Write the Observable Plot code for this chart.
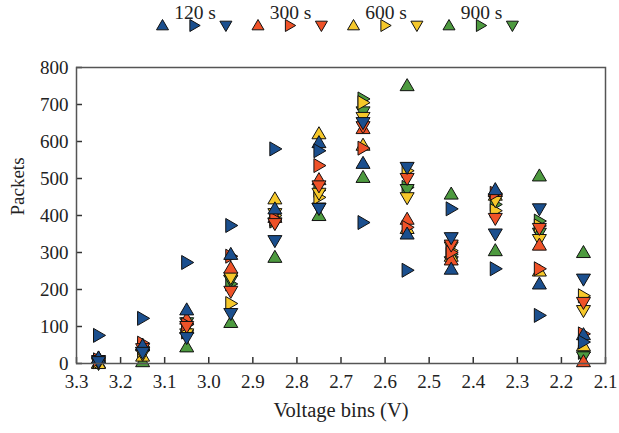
<!DOCTYPE html>
<html>
<head>
<meta charset="utf-8">
<script src="https://cdn.jsdelivr.net/npm/d3@7"></script>
<script src="https://cdn.jsdelivr.net/npm/@observablehq/plot@0.6"></script>
<style>
  html, body { margin: 0; padding: 0; background: #fff; }
  #legend svg, #chart svg { display: block; }
</style>
</head>
<body>
<div id="legend"></div>
<div id="chart"></div>
<script>
// ---- data ----
const bins = [3.25, 3.15, 3.05, 2.95, 2.85, 2.75, 2.65, 2.55, 2.45, 2.35, 2.25, 2.15];
const durations = ["120 s", "300 s", "600 s", "900 s"];
const colors = ["#1b4f8e", "#ef5228", "#f6c82a", "#4d9a3f"];
const shapeNames = ["up", "right", "down"];

const s120_up    = [15, 48, 145, 295, 418, 597, 541, 350, 255, 470, 215, 78];
const s120_right = [76, 122, 273, 373, 580, 575, 381, 252, 418, 256, 130, 58];
const s120_down  = [5, 30, 70, 135, 332, 419, 651, 530, 340, 350, 418, 228];
const s300_up    = [15, 50, 120, 258, 395, 497, 635, 390, 280, 465, 320, 5];
const s300_right = [10, 55, 105, 290, 390, 535, 582, 368, 300, 460, 256, 80];
const s300_down  = [8, 40, 100, 195, 378, 480, 640, 500, 320, 392, 365, 165];
const s600_up    = [0, 20, 95, 250, 445, 621, 590, 365, 290, 455, 250, 48];
const s600_right = [5, 35, 85, 162, 400, 449, 705, 521, 305, 413, 372, 183];
const s600_down  = [3, 25, 80, 232, 405, 460, 665, 448, 315, 440, 335, 143];
const s900_up    = [2, 5, 45, 111, 287, 400, 503, 751, 458, 305, 507, 300];
const s900_right = [8, 45, 90, 215, 385, 468, 715, 476, 295, 430, 385, 30];
const s900_down  = [0, 30, 110, 225, 380, 420, 680, 470, 275, 445, 352, 18];

const xTicks = [3.3, 3.2, 3.1, 3.0, 2.9, 2.8, 2.7, 2.6, 2.5, 2.4, 2.3, 2.2, 2.1];
const yTicks = [0, 100, 200, 300, 400, 500, 600, 700, 800];

const seriesValues = [
  [s120_up, s120_right, s120_down],
  [s300_up, s300_right, s300_down],
  [s600_up, s600_right, s600_down],
  [s900_up, s900_right, s900_down]
];

// ---- triangle symbols ----
function tri(kind) {
  return {
    draw(ctx, size) {
      const r = Math.sqrt(size / Math.PI);
      const b = r * 0.72;
      if (kind === "up") { ctx.moveTo(0, -r); ctx.lineTo(r, b); ctx.lineTo(-r, b); }
      else if (kind === "down") { ctx.moveTo(0, r); ctx.lineTo(r, -b); ctx.lineTo(-r, -b); }
      else { ctx.moveTo(r, 0); ctx.lineTo(-b, -r); ctx.lineTo(-b, r); }
      ctx.closePath();
    }
  };
}
const symbols = shapeNames.map(tri);

const font = "'Liberation Serif', 'Times New Roman', serif";

// ---- main chart ----
const marks = [];
// draw 900 s first so 120 s ends on top
for (let i = durations.length - 1; i >= 0; i--) {
  for (let j = 0; j < 3; j++) {
    const rows = bins.map((b, k) => ({bin: b, value: seriesValues[i][j][k]}));
    marks.push(Plot.dot(rows, {
      x: "bin", y: "value", r: 7, symbol: symbols[j],
      fill: colors[i], stroke: "#111", strokeWidth: 1
    }));
  }
}

const chart = Plot.plot({
  width: 619,
  height: 398,
  marginTop: 32,
  marginBottom: 70,
  marginLeft: 76,
  marginRight: 14,
  style: {fontFamily: font, fontSize: "19px", color: "#222", background: "#fff"},
  x: {domain: [3.3, 2.1], label: null},
  y: {domain: [0, 800], label: null},
  marks: [
    Plot.axisX({ticks: xTicks, tickFormat: d3.format(".1f"), tickSize: -6, tickPadding: 17, stroke: "#333", strokeWidth: 1.5, label: null}),
    Plot.axisY({ticks: yTicks, tickSize: -6, tickPadding: 14, stroke: "#333", strokeWidth: 1.5, label: null}),
    ...marks,
    Plot.frame({stroke: "#555", strokeWidth: 1.5}),
    Plot.text(["Voltage bins (V)"], {frameAnchor: "bottom", dy: 53, fontSize: 20.5, fill: "#222"}),
    Plot.text(["Packets"], {frameAnchor: "left", dx: -59, rotate: -90, fontSize: 19, fill: "#222"})
  ]
});
document.getElementById("chart").appendChild(chart);

// ---- legend ----
const legItems = [];
const legLabels = [];
durations.forEach((d, i) => {
  shapeNames.forEach((s, j) => legItems.push({x: 162 + 95.5 * i + 31.7 * j, y: 25, i, j}));
  legLabels.push({x: 162 + 95.5 * i + 32.5, y: 12, label: d});
});
const legend = Plot.plot({
  width: 619, height: 35,
  margin: 0,
  style: {fontFamily: font, fontSize: "19px", background: "#fff"},
  x: {domain: [0, 619], range: [0, 619], axis: null},
  y: {domain: [0, 35], range: [0, 35], axis: null},
  marks: [
    ...shapeNames.map((s, j) => Plot.dot(legItems.filter(d => d.j === j), {
      x: "x", y: "y", r: 6, symbol: symbols[j],
      fill: d => colors[d.i], stroke: "#111", strokeWidth: 1
    })),
    Plot.text(legLabels, {x: "x", y: "y", text: "label", fontSize: 19.5, fill: "#222"})
  ]
});
document.getElementById("legend").appendChild(legend);
</script>
</body>
</html>
